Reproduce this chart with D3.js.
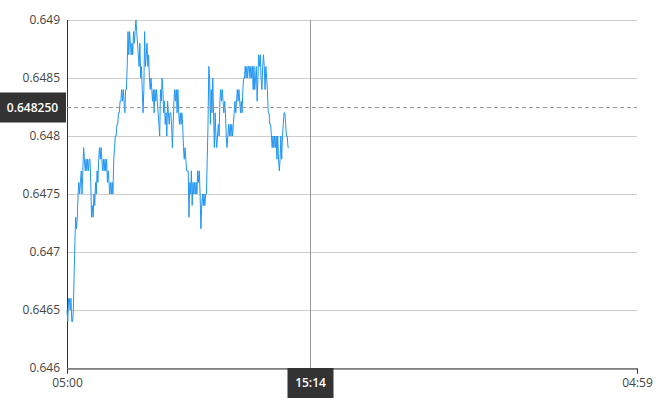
<!DOCTYPE html>
<html>
<head>
<meta charset="utf-8">
<script src="https://cdn.jsdelivr.net/npm/d3@7"></script>
<style>
    body { margin: 0; background: #fff; }
    #chart { width: 670px; height: 400px; }
    text { font-family: "Open Sans", "Noto Sans", sans-serif; }
</style>
</head>
<body>
<div id="chart"></div>
<script>
// price in pips above 0.6400, one reading every 2 minutes from 05:00
const pips = [
    65, 64, 66, 66, 65, 66, 64, 64, 65, 68,
    71, 73, 72, 73, 75, 76, 75, 76, 77, 75, 77,
    79, 78, 77, 78, 77, 78, 77, 78, 78,
    76, 73, 74, 73, 75, 74, 76, 75, 77, 76, 78,
    79, 78, 79, 78, 77, 78, 77, 78, 77, 78, 76, 77,
    76, 75, 76, 75, 76, 75, 78, 79, 80, 80,
    81, 81, 82, 82, 83, 83, 84, 83, 84, 83, 82,
    84, 84, 86, 89, 87, 89, 88, 87, 88, 87, 89, 88, 89,
    90, 89, 88, 87, 86, 88, 85, 86, 84, 82, 84, 89, 86,
    87, 88, 86, 87, 85, 84, 85, 84, 83, 84, 82, 84,
    83, 84, 83, 82, 81, 80, 84, 83, 85, 84,
    82, 83, 81, 82, 80, 83, 82, 81, 82, 82, 81,
    79, 81, 83, 84, 83, 84, 82, 84, 82,
    81, 82, 81, 82, 81, 79, 78, 79, 78, 77, 77,
    77, 73, 76, 75, 77, 74, 76, 75, 76, 75, 76, 75,
    77, 76, 77, 75, 72, 74, 75, 74, 75, 74, 75, 75, 78,
    81, 86, 85, 81, 84, 82, 85, 82, 79, 82, 80, 79,
    80, 81, 80, 83, 84, 83, 84, 83, 82, 83, 82, 80, 79, 80,
    81, 80, 81, 80, 81, 80, 81, 82, 83, 82, 83, 84, 83, 84,
    83, 82, 83, 82, 84, 85, 85,
    86, 85, 86, 85, 86, 86, 85, 86, 85, 86, 84, 86, 84,
    85, 86, 83, 85, 87, 86, 87, 85, 84, 86, 87,
    86, 84, 86, 85, 84, 82, 82, 81, 81, 80, 79, 80, 79,
    80, 79, 80, 78, 80, 78, 77, 78, 80, 78, 80, 81,
    82, 82, 81, 80, 80, 79, 79
];
const stepMinutes = 2;
const yTicks = [0.646, 0.6465, 0.647, 0.6475, 0.648, 0.6485, 0.649];
const startTime = new Date(2024, 0, 1, 5, 0);
const endTime = new Date(2024, 0, 2, 4, 59);
const cursorTime = new Date(2024, 0, 1, 15, 14);
const cursorPrice = 0.64825;

const width = 670, height = 400;
const margin = { top: 20, right: 33, bottom: 32, left: 67 };
const innerW = width - margin.left - margin.right;
const innerH = height - margin.top - margin.bottom;

const data = pips.map((p, i) => ({
    t: new Date(startTime.getTime() + i * stepMinutes * 60000),
    v: 0.64 + p / 10000
}));

const svg = d3.select("#chart").append("svg")
    .attr("width", width)
    .attr("height", height);

const g = svg.append("g")
    .attr("transform", `translate(${margin.left},${margin.top})`);

const x = d3.scaleTime().domain([startTime, endTime]).range([0, innerW]);
const y = d3.scaleLinear().domain([0.646, 0.649]).range([innerH, 0]);

// grid
g.selectAll(".grid")
    .data(yTicks)
    .enter().append("line")
    .attr("x1", 0)
    .attr("x2", innerW)
    .attr("y1", d => Math.round(y(d)) + 0.5)
    .attr("y2", d => Math.round(y(d)) + 0.5)
    .attr("stroke", "#cccccc");

// y labels
g.selectAll(".ylab")
    .data(yTicks)
    .enter().append("text")
    .attr("x", -7)
    .attr("y", d => y(d) + 4)
    .attr("text-anchor", "end")
    .attr("font-size", "12px")
    .attr("fill", "#444")
    .text(d => d);

// axes
g.append("line")
    .attr("x1", 0.5).attr("x2", 0.5)
    .attr("y1", 0).attr("y2", innerH)
    .attr("stroke", "#333");

const xAxis = g.append("g")
    .attr("transform", `translate(0,${innerH + 0.5})`)
    .call(d3.axisBottom(x).tickValues([startTime, endTime]).tickFormat(d3.timeFormat("%H:%M")).tickSizeOuter(0).tickSize(5));
xAxis.select(".domain").attr("stroke", "#333");
xAxis.selectAll(".tick line").attr("stroke", "#333");
xAxis.selectAll(".tick text")
    .attr("font-family", "'Open Sans', 'Noto Sans', sans-serif")
    .attr("font-size", "12px")
    .attr("fill", "#444")
    .attr("dy", "0.9em");

// price line
const line = d3.line()
    .x(d => x(d.t))
    .y(d => y(d.v));

g.append("path")
    .datum(data)
    .attr("fill", "none")
    .attr("stroke", "#2196f3")
    .attr("stroke-width", 1)
    .attr("d", line);

// crosshair
const cx = Math.round(x(cursorTime)) + 0.5;
const cy = Math.round(y(cursorPrice)) + 0.5;

g.append("line")
    .attr("x1", cx).attr("x2", cx)
    .attr("y1", 0).attr("y2", innerH)
    .attr("stroke", "#999");

g.append("line")
    .attr("x1", 0).attr("x2", innerW)
    .attr("y1", cy).attr("y2", cy)
    .attr("stroke", "#999")
    .attr("stroke-dasharray", "4,3");

// price label
g.append("rect")
    .attr("x", -margin.left)
    .attr("y", cy - 15)
    .attr("width", margin.left - 1)
    .attr("height", 30)
    .attr("fill", "#333");

g.append("text")
    .attr("x", -margin.left / 2 - 1)
    .attr("y", cy + 4.5)
    .attr("text-anchor", "middle")
    .attr("font-size", "12px")
    .attr("font-weight", "600")
    .attr("fill", "#fff")
    .text(cursorPrice.toFixed(6));

// time label
g.append("rect")
    .attr("x", cx - 23)
    .attr("y", innerH)
    .attr("width", 46)
    .attr("height", 30)
    .attr("fill", "#333");

g.append("text")
    .attr("x", cx)
    .attr("y", innerH + 19)
    .attr("text-anchor", "middle")
    .attr("font-size", "12px")
    .attr("font-weight", "600")
    .attr("fill", "#fff")
    .text(d3.timeFormat("%H:%M")(cursorTime));
</script>
</body>
</html>
